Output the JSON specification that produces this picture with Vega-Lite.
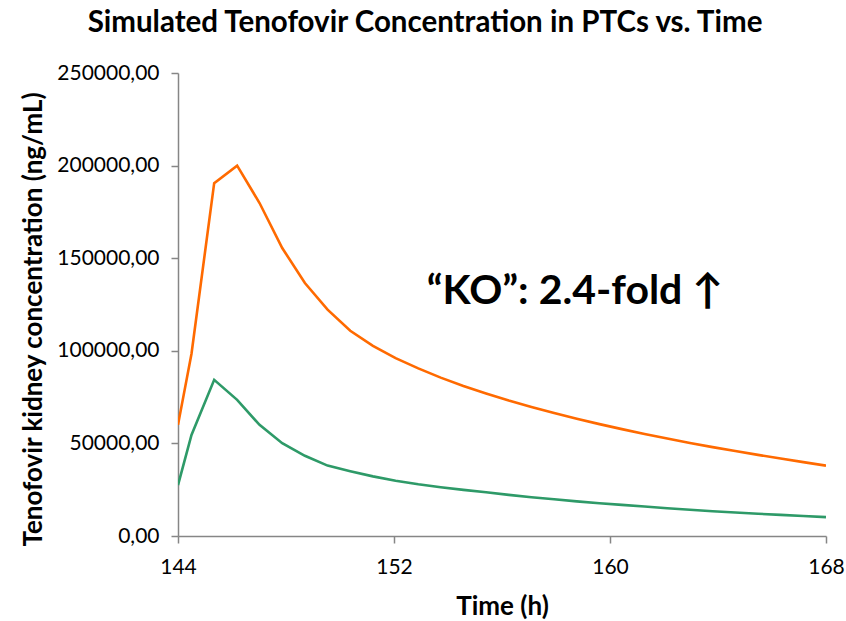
{
  "$schema": "https://vega.github.io/schema/vega-lite/v6.json",
  "autosize": {"type": "none"},
  "width": 648,
  "height": 463,
  "padding": {"left": 178, "top": 73, "right": 20, "bottom": 85},
  "background": "white",
  "title": {
    "text": "Simulated Tenofovir Concentration in PTCs vs. Time",
    "font": "Lato",
    "fontSize": 29.5,
    "fontWeight": "bold",
    "color": "#000000",
    "anchor": "middle",
    "frame": "group",
    "dx": -77,
    "offset": 24
  },
  "datasets": {
    "curves": [
      {"time": 144.0, "series": "KO", "conc": 60000},
      {"time": 144.5, "series": "KO", "conc": 98400},
      {"time": 145.34, "series": "KO", "conc": 190500},
      {"time": 146.19, "series": "KO", "conc": 200000},
      {"time": 147.02, "series": "KO", "conc": 179800},
      {"time": 147.86, "series": "KO", "conc": 155500},
      {"time": 148.7, "series": "KO", "conc": 136600},
      {"time": 149.54, "series": "KO", "conc": 122200},
      {"time": 150.38, "series": "KO", "conc": 110800},
      {"time": 151.22, "series": "KO", "conc": 102700},
      {"time": 152.06, "series": "KO", "conc": 96000},
      {"time": 152.9, "series": "KO", "conc": 90500},
      {"time": 153.73, "series": "KO", "conc": 85500},
      {"time": 154.57, "series": "KO", "conc": 81000},
      {"time": 155.41, "series": "KO", "conc": 77000},
      {"time": 156.25, "series": "KO", "conc": 73200},
      {"time": 157.09, "series": "KO", "conc": 69700},
      {"time": 157.93, "series": "KO", "conc": 66400},
      {"time": 158.77, "series": "KO", "conc": 63300},
      {"time": 159.61, "series": "KO", "conc": 60400},
      {"time": 160.44, "series": "KO", "conc": 57700},
      {"time": 161.28, "series": "KO", "conc": 55100},
      {"time": 162.12, "series": "KO", "conc": 52600},
      {"time": 162.96, "series": "KO", "conc": 50200},
      {"time": 163.8, "series": "KO", "conc": 48000},
      {"time": 164.64, "series": "KO", "conc": 45900},
      {"time": 165.48, "series": "KO", "conc": 43800},
      {"time": 166.32, "series": "KO", "conc": 41800},
      {"time": 167.16, "series": "KO", "conc": 39900},
      {"time": 168.0, "series": "KO", "conc": 38000},
      {"time": 144.0, "series": "WT", "conc": 27500},
      {"time": 144.5, "series": "WT", "conc": 54600},
      {"time": 145.34, "series": "WT", "conc": 84300},
      {"time": 146.19, "series": "WT", "conc": 73500},
      {"time": 147.02, "series": "WT", "conc": 60000},
      {"time": 147.86, "series": "WT", "conc": 50100},
      {"time": 148.7, "series": "WT", "conc": 43300},
      {"time": 149.54, "series": "WT", "conc": 38000},
      {"time": 150.38, "series": "WT", "conc": 35000},
      {"time": 151.22, "series": "WT", "conc": 32200},
      {"time": 152.06, "series": "WT", "conc": 29800},
      {"time": 152.9, "series": "WT", "conc": 27900},
      {"time": 153.73, "series": "WT", "conc": 26300},
      {"time": 154.57, "series": "WT", "conc": 24900},
      {"time": 155.41, "series": "WT", "conc": 23600},
      {"time": 156.25, "series": "WT", "conc": 22200},
      {"time": 157.09, "series": "WT", "conc": 20900},
      {"time": 157.93, "series": "WT", "conc": 19800},
      {"time": 158.77, "series": "WT", "conc": 18700},
      {"time": 159.61, "series": "WT", "conc": 17700},
      {"time": 160.44, "series": "WT", "conc": 16800},
      {"time": 161.28, "series": "WT", "conc": 15900},
      {"time": 162.12, "series": "WT", "conc": 15000},
      {"time": 162.96, "series": "WT", "conc": 14200},
      {"time": 163.8, "series": "WT", "conc": 13400},
      {"time": 164.64, "series": "WT", "conc": 12700},
      {"time": 165.48, "series": "WT", "conc": 12000},
      {"time": 166.32, "series": "WT", "conc": 11400},
      {"time": 167.16, "series": "WT", "conc": 10800},
      {"time": 168.0, "series": "WT", "conc": 10200}
    ],
    "note": [
      {"time": 158.7, "conc": 131900, "label": "“KO”: 2.4-fold ↑"}
    ]
  },
  "layer": [
    {
      "data": {"name": "curves"},
      "mark": {"type": "line", "strokeWidth": 2.6, "clip": true},
      "encoding": {
        "x": {
          "field": "time",
          "type": "quantitative",
          "scale": {"domain": [144, 168], "nice": false, "zero": false},
          "axis": {
            "values": [144, 152, 160, 168],
            "title": "Time (h)",
            "grid": false,
            "labelFlush": false,
            "labelOverlap": false,
            "domainColor": "#868686",
            "domainWidth": 1.5,
            "tickColor": "#868686",
            "tickWidth": 1.5,
            "tickSize": 7,
            "labelFont": "Lato",
            "labelFontSize": 21,
            "labelColor": "#000000",
            "labelPadding": 13,
            "titleFont": "Lato",
            "titleFontSize": 26,
            "titleFontWeight": "bold",
            "titleColor": "#000000",
            "titlePadding": 16
          }
        },
        "y": {
          "field": "conc",
          "type": "quantitative",
          "scale": {"domain": [0, 250000], "nice": false},
          "axis": {
            "values": [0, 50000, 100000, 150000, 200000, 250000],
            "labelExpr": "replace(format(datum.value, '.2f'), '.', ',')",
            "title": "Tenofovir kidney concentration (ng/mL)",
            "grid": false,
            "labelFlush": false,
            "domainColor": "#868686",
            "domainWidth": 1.5,
            "tickColor": "#868686",
            "tickWidth": 1.5,
            "tickSize": 7,
            "labelFont": "Lato",
            "labelFontSize": 21,
            "labelColor": "#000000",
            "labelPadding": 12,
            "titleFont": "Lato",
            "titleFontSize": 26,
            "titleFontWeight": "bold",
            "titleColor": "#000000",
            "titlePadding": 10,
            "titleY": 246
          }
        },
        "color": {
          "field": "series",
          "type": "nominal",
          "scale": {"domain": ["KO", "WT"], "range": ["#ff6a00", "#2e9a68"]},
          "legend": null
        }
      }
    },
    {
      "data": {"name": "note"},
      "mark": {
        "type": "text",
        "font": "Lato",
        "fontSize": 41,
        "fontWeight": "bold",
        "color": "#000000",
        "align": "center",
        "baseline": "middle"
      },
      "encoding": {
        "x": {"field": "time", "type": "quantitative"},
        "y": {"field": "conc", "type": "quantitative"},
        "text": {"field": "label", "type": "nominal"}
      }
    }
  ],
  "config": {"view": {"stroke": null}}
}
